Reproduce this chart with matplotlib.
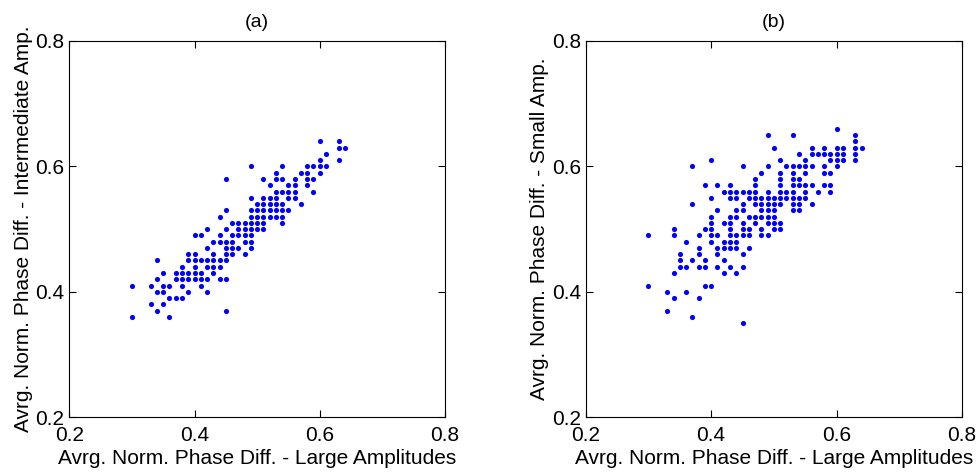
import numpy as np
import matplotlib
matplotlib.use('Agg')
import matplotlib.pyplot as plt

plt.rcParams['font.family'] = ['Liberation Sans', 'DejaVu Sans']

# panel (a): one y level per row, x values at that level
ya_rows = [0.64, 0.63, 0.62, 0.61, 0.60, 0.59, 0.58, 0.57, 0.56, 0.55,
           0.54, 0.53, 0.52, 0.51, 0.50, 0.49, 0.48, 0.47, 0.46, 0.45,
           0.44, 0.43, 0.42, 0.41, 0.40, 0.39, 0.38, 0.37, 0.36]
xa_rows = [
    [0.60, 0.63],
    [0.63, 0.64],
    [0.61],
    [0.60, 0.63],
    [0.49, 0.54, 0.58, 0.59, 0.60, 0.61],
    [0.53, 0.57, 0.58, 0.60],
    [0.45, 0.51, 0.53, 0.54, 0.56, 0.58, 0.59],
    [0.52, 0.55, 0.56, 0.58],
    [0.53, 0.54, 0.55, 0.56, 0.59],
    [0.49, 0.51, 0.52, 0.53, 0.55, 0.56],
    [0.50, 0.51, 0.52, 0.53, 0.54, 0.57],
    [0.45, 0.49, 0.50, 0.51, 0.52, 0.53, 0.54, 0.55],
    [0.44, 0.49, 0.50, 0.51, 0.52, 0.53, 0.54],
    [0.46, 0.47, 0.48, 0.49, 0.50, 0.51, 0.54],
    [0.42, 0.45, 0.47, 0.48, 0.49, 0.50, 0.51],
    [0.40, 0.41, 0.44, 0.46, 0.47, 0.48, 0.49],
    [0.43, 0.44, 0.45, 0.46, 0.48, 0.49],
    [0.42, 0.45, 0.46, 0.47, 0.49],
    [0.39, 0.40, 0.43, 0.45, 0.46, 0.48],
    [0.34, 0.39, 0.40, 0.41, 0.42, 0.43, 0.44, 0.45],
    [0.38, 0.40, 0.42, 0.43, 0.44],
    [0.35, 0.37, 0.38, 0.39, 0.40, 0.41, 0.43],
    [0.34, 0.37, 0.38, 0.39, 0.40, 0.41, 0.42, 0.44, 0.45],
    [0.30, 0.33, 0.35, 0.36, 0.38, 0.41],
    [0.34, 0.35, 0.39, 0.42],
    [0.36, 0.37, 0.38],
    [0.33, 0.35],
    [0.34, 0.45],
    [0.30, 0.36],
]

# panel (b)
yb_rows = [0.66, 0.65, 0.64, 0.63, 0.62, 0.61, 0.60, 0.59, 0.58, 0.57,
           0.56, 0.55, 0.54, 0.53, 0.52, 0.51, 0.50, 0.49, 0.48, 0.47,
           0.46, 0.45, 0.44, 0.43, 0.41, 0.40, 0.39, 0.37, 0.36, 0.35]
xb_rows = [
    [0.60],
    [0.49, 0.53, 0.63],
    [0.63],
    [0.50, 0.56, 0.58, 0.60, 0.61, 0.63, 0.64],
    [0.54, 0.56, 0.57, 0.58, 0.59, 0.60, 0.61, 0.63],
    [0.40, 0.51, 0.55, 0.59, 0.60, 0.61, 0.63],
    [0.37, 0.45, 0.49, 0.52, 0.53, 0.54, 0.55, 0.56, 0.58, 0.60],
    [0.48, 0.51, 0.53, 0.55, 0.58, 0.59],
    [0.47, 0.51, 0.53, 0.54],
    [0.39, 0.41, 0.43, 0.47, 0.51, 0.53, 0.54, 0.55, 0.56, 0.58, 0.59],
    [0.42, 0.43, 0.44, 0.45, 0.46, 0.47, 0.49, 0.51, 0.52, 0.53, 0.55, 0.57, 0.59],
    [0.40, 0.43, 0.44, 0.46, 0.47, 0.48, 0.49, 0.50, 0.51, 0.52, 0.53, 0.54, 0.55],
    [0.37, 0.45, 0.47, 0.48, 0.49, 0.50, 0.51, 0.53, 0.54, 0.56],
    [0.41, 0.44, 0.45, 0.48, 0.49, 0.50, 0.53, 0.54],
    [0.40, 0.43, 0.44, 0.46, 0.47, 0.48, 0.49, 0.50],
    [0.40, 0.42, 0.43, 0.45, 0.47, 0.49, 0.50, 0.51],
    [0.34, 0.39, 0.40, 0.43, 0.45, 0.46, 0.48, 0.50, 0.51],
    [0.30, 0.34, 0.38, 0.40, 0.41, 0.43, 0.44, 0.45, 0.46, 0.48, 0.49],
    [0.36, 0.40, 0.42, 0.43, 0.44],
    [0.38, 0.41, 0.42, 0.43, 0.44, 0.46],
    [0.35, 0.38, 0.41, 0.45],
    [0.35, 0.37, 0.39, 0.42],
    [0.35, 0.36, 0.38, 0.39, 0.41, 0.43, 0.45],
    [0.34, 0.42, 0.44],
    [0.30, 0.39, 0.40],
    [0.33, 0.36],
    [0.34, 0.38],
    [0.33],
    [0.37],
    [0.45],
]

ticks = [0.2, 0.4, 0.6, 0.8]
xlabel = 'Avrg. Norm. Phase Diff. - Large Amplitudes'
ylabels = ['Avrg. Norm. Phase Diff. - Intermediate Amp.',
           'Avrg. Norm. Phase Diff. - Small Amp.']
titles = ['(a)', '(b)']


def flatten(y_rows, x_rows):
    xs, ys = [], []
    for y, row in zip(y_rows, x_rows):
        xs += row
        ys += [y] * len(row)
    return np.array(xs), np.array(ys)


fig = plt.figure(figsize=(9.79, 4.75), dpi=100)
axa = fig.add_axes([0.0708, 0.1215, 0.3837, 0.7922])
axb = fig.add_axes([0.5983, 0.1215, 0.3844, 0.7922])

panels = [(axa, flatten(ya_rows, xa_rows)), (axb, flatten(yb_rows, xb_rows))]
for i, (ax, (x, y)) in enumerate(panels):
    ax.plot(x, y, linestyle='none', marker='o', markersize=3.7,
            markeredgewidth=0, color='#0000ff')
    ax.set_xlim(0.2, 0.8)
    ax.set_ylim(0.2, 0.8)
    ax.set_xticks(ticks)
    ax.set_yticks(ticks)
    ax.set_xticklabels(['0.2', '0.4', '0.6', '0.8'])
    ax.set_yticklabels(['0.2', '0.4', '0.6', '0.8'])
    ax.tick_params(direction='in', length=5, width=0.8, labelsize=15,
                   top=True, right=True)
    ax.tick_params(axis='x', pad=6.5)
    ax.tick_params(axis='y', pad=3.5)
    for s in ax.spines.values():
        s.set_linewidth(0.8)
    ax.set_xlabel(xlabel, fontsize=15, labelpad=3)
    ax.set_ylabel(ylabels[i], fontsize=15, labelpad=2)
    ax.set_title(titles[i], fontsize=14, pad=10)

fig.savefig('out.png', dpi=100)
